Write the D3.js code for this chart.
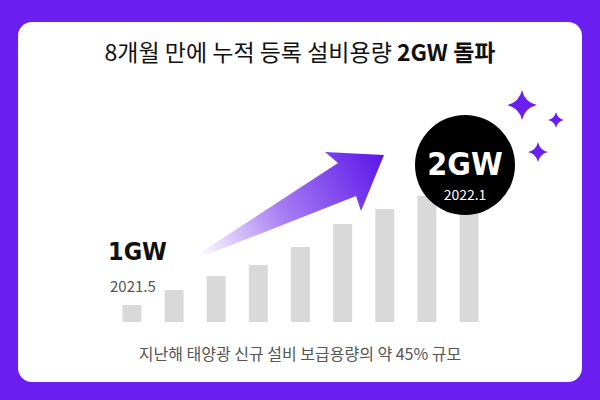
<!DOCTYPE html>
<html><head><meta charset="utf-8">
<script src="https://cdn.jsdelivr.net/npm/d3@7"></script>
<style>body{margin:0;background:#6a1ff0}svg{display:block}</style>
</head><body><svg width="600" height="400"></svg>
<script>
// monthly cumulative capacity (relative bar heights)
var months = ["2021.5","2021.6","2021.7","2021.8","2021.9","2021.10","2021.11","2021.12","2022.1"];
var values = [17, 32, 46, 57, 75, 98, 113, 126, 142];
var title = "8개월 만에 누적 등록 설비용량 ";
var titleBold = "2GW 돌파";
var caption = "지난해 태양광 신규 설비 보급용량의 약 45% 규모";

var svg = d3.select("svg");
var font = "'Noto Sans CJK KR', 'Noto Sans', sans-serif";

svg.append("rect").attr("width", 600).attr("height", 400).attr("fill", "#6a1ff0");
svg.append("rect").attr("x", 18).attr("y", 22).attr("width", 564).attr("height", 360)
  .attr("rx", 14).attr("fill", "#fff");

var t = svg.append("text").attr("x", 300).attr("y", 61).attr("text-anchor", "middle")
  .style("font-family", font).style("font-size", "23px").attr("fill", "#111");
t.append("tspan").text(title);
t.append("tspan").style("font-weight", "bold").text(titleBold);

var x = d3.scaleBand().domain(months).range([114, 487]).paddingInner(0.55).paddingOuter(0.2);
var y = d3.scaleLinear().domain([0, 150]).range([322, 172]);

svg.selectAll("rect.bar").data(values).enter().append("rect").attr("class", "bar")
  .attr("x", function (d, i) { return x(months[i]); })
  .attr("width", x.bandwidth())
  .attr("y", function (d) { return y(d); })
  .attr("height", function (d) { return y(0) - y(d); })
  .attr("fill", "#d9d9d9");

// arrow gradient
var defs = svg.append("defs");
var g = defs.append("linearGradient").attr("id", "ag").attr("gradientUnits", "userSpaceOnUse")
  .attr("x1", 197).attr("y1", 255).attr("x2", 385).attr("y2", 155);
g.append("stop").attr("offset", 0).attr("stop-color", "#ffffff");
g.append("stop").attr("offset", 0.45).attr("stop-color", "#a77cf3");
g.append("stop").attr("offset", 1).attr("stop-color", "#5a14e8");
svg.append("path").attr("fill", "url(#ag)")
  .attr("d", "M197,255 L338,163 L325,152 L384,155 L361,211 L356,196 L201,257 Z");

// labels
svg.append("text").attr("x", 108).attr("y", 260).text("1GW")
  .style("font-family", "'DejaVu Sans Condensed', sans-serif").style("font-weight", "bold")
  .style("font-size", "25px").attr("fill", "#111");
svg.append("text").attr("x", 110).attr("y", 292).text(months[0])
  .style("font-family", font).style("font-size", "15px").attr("fill", "#555");

svg.append("circle").attr("cx", 465).attr("cy", 165).attr("r", 50).attr("fill", "#000");
svg.append("text").attr("x", 465).attr("y", 175).attr("text-anchor", "middle").text("2GW")
  .style("font-family", "'DejaVu Sans Condensed', sans-serif").style("font-weight", "bold")
  .style("font-size", "32px").attr("fill", "#fff");
svg.append("text").attr("x", 465).attr("y", 200).attr("text-anchor", "middle").text(months[8])
  .style("font-family", font).style("font-size", "14px").attr("fill", "#fff");

// sparkles
function star(cx, cy, r) {
  var k = r * 0.18;
  return "M" + cx + "," + (cy - r) + " Q" + (cx + k) + "," + (cy - k) + " " + (cx + r) + "," + cy +
    " Q" + (cx + k) + "," + (cy + k) + " " + cx + "," + (cy + r) +
    " Q" + (cx - k) + "," + (cy + k) + " " + (cx - r) + "," + cy +
    " Q" + (cx - k) + "," + (cy - k) + " " + cx + "," + (cy - r) + "Z";
}
[[522, 105, 15], [556, 120, 8], [538, 152, 10]].forEach(function (s) {
  svg.append("path").attr("d", star(s[0], s[1], s[2])).attr("fill", "#6a1ff0");
});

svg.append("text").attr("x", 300).attr("y", 360).attr("text-anchor", "middle").text(caption)
  .style("font-family", font).style("font-size", "16px").attr("fill", "#555");
</script></body></html>
